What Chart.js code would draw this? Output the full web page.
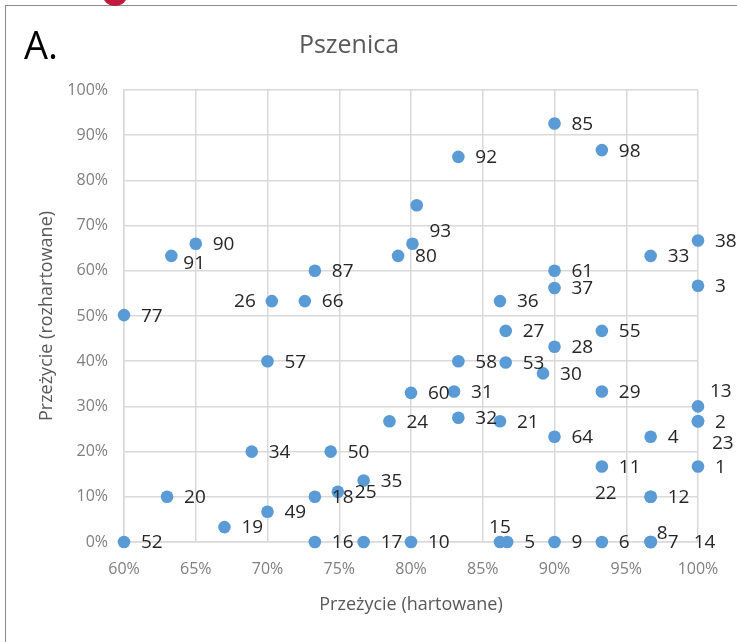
<!DOCTYPE html>
<html>
<head>
<meta charset="utf-8">
<script src="https://cdn.jsdelivr.net/npm/chart.js@4.4.1/dist/chart.umd.min.js"></script>
<style>
  html, body { margin: 0; padding: 0; background: #fff; overflow: hidden; }
  #wrap { position: relative; width: 737px; height: 642px; }
  #frame { position: absolute; left: 5px; top: 5px; right: 0; bottom: 0;
           border-top: 1.5px solid #8a8a8a; border-left: 1.5px solid #8a8a8a; }
  #blob { position: absolute; left: 102px; top: -14px; width: 26px; height: 20px;
          background: #c2193f; border-radius: 0 0 13px 13px; }
  canvas { position: absolute; left: 0; top: 0; }
</style>
</head>
<body>
<div id="wrap">
  <div id="frame"></div>
  <div id="blob"></div>
  <canvas id="scatter_chart" width="737" height="642"></canvas>
</div>
<script>
// numer próby (etykieta punktu)
const pointIds = ['1','2','3','4','5','6','7','8','9','10','11','12','13','14','15','16','17','18','19','20',
    '21','22','23','24','25','26','27','28','29','30','31','32','33','34','35','36','37','38',
    '49','50','52','53','55','57','58','60','61','64','66','77','80','85','87','90','91','92','93','','98']
// przeżycie (hartowane), %
const hartowane = [100,100,100,96.7,86.7,93.3,96.7,96.7,90,80,
    93.3,96.7,100,96.7,86.2,73.3,76.7,73.3,67,63,
    86.2,96.7,100,78.5,74.9,70.3,86.6,90,93.3,89.2,
    83,83.3,96.7,68.9,76.7,86.2,90,100,
    70,74.4,60,86.6,93.3,70,83.3,80,90,90,
    72.6,60,79.1,90,73.3,65,63.3,83.3,80.1,80.4,93.3]
// przeżycie (rozhartowane), %
const rozhartowane = [16.7,26.7,56.7,23.3,0,0,0,0,0,0,
    16.7,10,30,0,0,0,0,10,3.3,10,
    26.7,10,26.7,26.7,11.1,53.3,46.7,43.2,33.3,37.3,
    33.3,27.5,63.3,20,13.6,53.3,56.2,66.7,
    6.7,20,0,39.7,46.7,40,40,33,60,23.3,
    53.3,50.2,63.3,92.6,60,66,63.3,85.2,66,74.5,86.7]
const xTicks = [60, 65, 70, 75, 80, 85, 90, 95, 100]
const yTicks = [0, 10, 20, 30, 40, 50, 60, 70, 80, 90, 100]

// label placement tweaks where labels were moved by hand: [dx, dy, align]
const labelShift = {
    '26': [-16, 1, 'right'],
    '91': [12, 8, 'left'],
    '93': [17, -12, 'left'],
    '13': [12, -15, 'left'],
    '23': [14, 22, 'left'],
    '22': [-34, -3, 'right'],
    '15': [0, -14, 'center'],
    '8': [6, -8, 'left'],
    '14': [43, 1, 'left']
}

const points = hartowane.map((x, i) => ({ x: x, y: rozhartowane[i] }))

const pointLabels = {
    id: 'pointLabels',
    afterDatasetsDraw(chart) {
        const ctx = chart.ctx
        const meta = chart.getDatasetMeta(0)
        ctx.save()
        ctx.font = '19px "Open Sans"'
        ctx.fillStyle = '#262626'
        ctx.textBaseline = 'middle'
        meta.data.forEach((pt, i) => {
            const id = pointIds[i]
            if (!id) return
            const s = labelShift[id] || [17, 1, 'left']
            ctx.textAlign = s[2]
            ctx.fillText(id, pt.x + s[0], pt.y + s[1])
        })
        ctx.restore()
    }
}

const panelLetter = {
    id: 'panelLetter',
    afterDraw(chart) {
        const ctx = chart.ctx
        ctx.save()
        ctx.font = '38px "Open Sans"'
        ctx.fillStyle = '#000'
        ctx.textAlign = 'left'
        ctx.textBaseline = 'alphabetic'
        ctx.fillText('A.', 24, 59)
        ctx.restore()
    }
}

const gridColor = '#d9d9d9'
const ctx = document.getElementById('scatter_chart').getContext('2d')
const chart = new Chart(ctx, {
    type: 'scatter',
    data: {
        datasets: [{
            data: points,
            backgroundColor: '#5b9bd5',
            borderWidth: 0,
            pointRadius: 6.3,
            clip: false
        }]
    },
    options: {
        responsive: false,
        animation: false,
        layout: { padding: { left: 0, right: 39, top: 0, bottom: 0 } },
        plugins: {
            legend: { display: false },
            tooltip: { enabled: false },
            title: {
                display: true,
                text: 'Pszenica',
                color: '#595959',
                font: { family: 'Open Sans', size: 25, weight: 'normal' },
                padding: { top: 31, bottom: 29 }
            }
        },
        scales: {
            x: {
                type: 'linear',
                min: 60,
                max: 100,
                afterBuildTicks: axis => { axis.ticks = xTicks.map(v => ({ value: v })) },
                afterFit: scale => { scale.height = 100 },
                ticks: {
                    color: '#7f7f7f',
                    font: { family: 'Open Sans', size: 16 },
                    padding: 18,
                    callback: v => v + '%'
                },
                grid: { color: gridColor, lineWidth: 1.5, drawTicks: false },
                border: { color: gridColor, width: 1.5 },
                title: {
                    display: true,
                    text: 'Przeżycie (hartowane)',
                    color: '#595959',
                    font: { family: 'Open Sans', size: 18 },
                    padding: { top: 0, bottom: 26 }
                }
            },
            y: {
                type: 'linear',
                min: 0,
                max: 100,
                afterBuildTicks: axis => { axis.ticks = yTicks.map(v => ({ value: v })) },
                afterFit: scale => { scale.width = 124 },
                ticks: {
                    color: '#7f7f7f',
                    font: { family: 'Open Sans', size: 16 },
                    padding: 16,
                    callback: v => v + '%'
                },
                grid: { color: gridColor, lineWidth: 1.5, drawTicks: false },
                border: { color: gridColor, width: 1.5 },
                title: {
                    display: true,
                    text: 'Przeżycie (rozhartowane)',
                    color: '#595959',
                    font: { family: 'Open Sans', size: 18 },
                    padding: { top: 36, bottom: 0 }
                }
            }
        }
    },
    plugins: [pointLabels, panelLetter]
})
</script>
</body>
</html>
